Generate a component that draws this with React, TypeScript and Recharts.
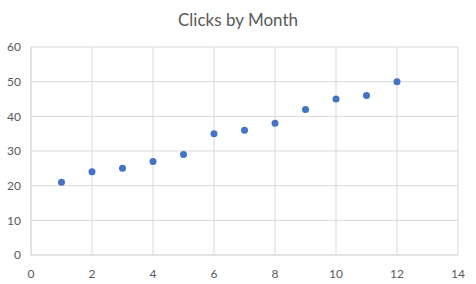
import React from 'react';
import { ScatterChart, Scatter, XAxis, YAxis, CartesianGrid } from 'recharts';

const months = [1, 2, 3, 4, 5, 6, 7, 8, 9, 10, 11, 12];
const clicks = [21, 24, 25, 27, 29, 35, 36, 38, 42, 45, 46, 50];
const xTicks = [0, 2, 4, 6, 8, 10, 12, 14];
const yTicks = [0, 10, 20, 30, 40, 50, 60];
const title = 'Clicks by Month';

const data = months.map((m, i) => ({ x: m, y: clicks[i] }));

const FONT = 'Lato, "Open Sans", sans-serif';

export default function App() {
  return (
    <div style={{ position: 'absolute', left: 0, top: 0, width: 476, height: 284, background: '#fff' }}>
      <div
        style={{
          position: 'absolute',
          left: 0,
          top: 9,
          width: 476,
          textAlign: 'center',
          fontFamily: FONT,
          fontSize: 17,
          color: '#595959',
        }}
      >
        {title}
      </div>
      <ScatterChart width={476} height={284} margin={{ top: 47, right: 18, bottom: 0, left: 0 }}>
        <CartesianGrid stroke="#d9d9d9" strokeWidth={1} />
        <XAxis
          type="number"
          dataKey="x"
          domain={[0, 14]}
          ticks={xTicks}
          interval={0}
          tickLine={false}
          axisLine={{ stroke: '#d9d9d9' }}
          tick={{ fill: '#595959', fontSize: 12, fontFamily: FONT }}
          tickMargin={8}
          height={29}
        />
        <YAxis
          type="number"
          dataKey="y"
          domain={[0, 60]}
          ticks={yTicks}
          interval={0}
          tickLine={false}
          axisLine={{ stroke: '#d9d9d9' }}
          tick={{ fill: '#595959', fontSize: 12, fontFamily: FONT }}
          tickMargin={4}
          width={31}
        />
        <Scatter data={data} fill="#4472C4" isAnimationActive={false} shape={(p: any) => <circle cx={p.cx} cy={p.cy} r={3.5} fill="#4472C4" />} />
      </ScatterChart>
    </div>
  );
}
